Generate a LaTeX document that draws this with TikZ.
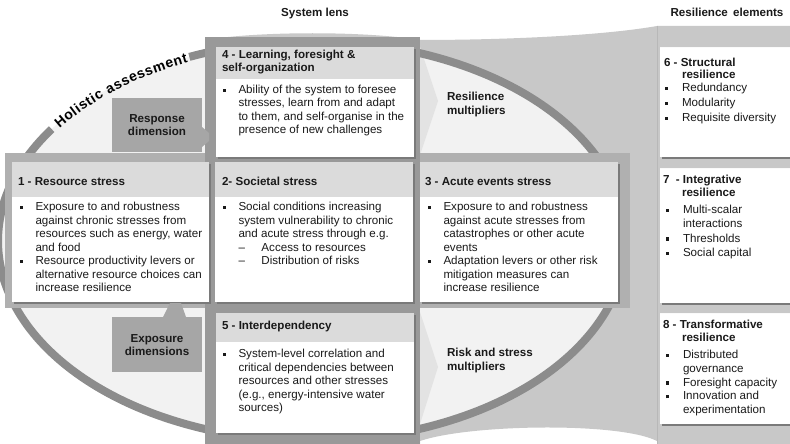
\documentclass[tikz,border=0pt]{standalone}
\usepackage{fontspec}
\setmainfont{Liberation Sans}
\usetikzlibrary{decorations.text}
\definecolor{funnel}{HTML}{C8C8C8}
\definecolor{ringc}{HTML}{8C8C8C}
\definecolor{ringin}{HTML}{F2F2F2}
\definecolor{colbk}{HTML}{999999}
\definecolor{rowbk}{HTML}{B0B0B0}
\definecolor{hdr}{HTML}{DBDBDB}
\definecolor{callc}{HTML}{A6A6A6}
\definecolor{shad}{HTML}{7A7A7A}
\definecolor{chev}{HTML}{E3E3E3}
\definecolor{txt}{HTML}{1A1A1A}
\newcommand\mybul{\raisebox{1.6pt}{\rule{3.2pt}{3.2pt}}}
\newcommand\mybi{\makebox[15.5pt][l]{\mybul}}
\newcommand\myci{\hspace*{15.5pt}}
\newcommand\mybir{\makebox[17pt][l]{\mybul}}
\newcommand\mycir{\hspace*{17pt}}
\newcommand\myblk[5][13.5]{\node[txtblock, font=\fontsize{11.6}{#1}\selectfont] (#2) at ({#3},{#4-0.7*#1}) {\begin{tabular}{@{}l@{}}#5\end{tabular}};}
\newcommand\mybox[5]{%
  \fill[shad] ({#1+2},{#2+2}) rectangle ({#3+2},{#4+2});
  \fill[white] (#1,#2) rectangle (#3,#4);
  \fill[hdr] (#1,#2) rectangle (#3,#5);}
\tikzset{
  txtblock/.style={anchor=north west, inner sep=0pt, outer sep=0pt, text=txt},
  headtxt/.style={anchor=base, inner sep=0pt, font=\fontsize{11.6}{13.5}\selectfont\bfseries, text=txt},
  calltxt/.style={align=center, inner sep=0pt, font=\fontsize{11.6}{13.5}\selectfont\bfseries, text=txt}
}
\begin{document}
\begin{tikzpicture}[x=1pt,y=-1pt]
\useasboundingbox (0,0) rectangle (790,444);
\fill[white] (0,0) rectangle (790,444);
% funnel background
\fill[funnel] (205,444) -- (205,40) .. controls (260,31) and (365,31) .. (420,40)
  .. controls (500,40) and (600,36) .. (657,26) -- (790,26) -- (790,444) -- (657,444)
  -- (657,441) .. controls (620,422) and (470,424) .. (420,441) -- (420,444) -- cycle;
\draw[colbk!70, line width=0.6pt] (657,26) -- (657,444);
% ring interior
\fill[ringin] (312,241) ellipse [x radius=314pt, y radius=200pt];
% chevrons
\fill[chev] (420,47) -- (438,101) -- (420,155) -- cycle;
\fill[chev] (420,312) -- (438,367) -- (420,424) -- cycle;
% ring band
\draw[ringc, line width=8pt] plot[domain=146:473, samples=240] ({312+314*cos(\x)},{241-200*sin(\x)});
% holistic text
\path[decorate, decoration={text along path, text={|\fontsize{14}{14}\selectfont\bfseries|Holistic assessment}, text align={fit to path}, raise=-5pt}]
  plot[domain=0:31, samples=60] ({312+314*cos(144.5-\x)},{241-200*sin(144.5-\x)});
% backdrops
\fill[rowbk] (5,153) rectangle (630,308);
\fill[colbk] (205,37) rectangle (420,444);
% boxes
\mybox{12}{162}{209}{302}{197}
\mybox{215}{162}{413}{302}{197}
\mybox{420}{162}{618}{302}{197}
\mybox{216}{47}{414}{157}{79}
\mybox{216}{313}{414}{433}{342}
\mybox{660}{47}{792}{157}{47}
\mybox{660}{168}{792}{303}{168}
\mybox{660}{313}{792}{424}{313}
% callouts
\fill[callc] (112,98) rectangle (202,152);
\fill[callc] (202,127) -- (209,133) -- (209,141) -- (202,147) -- cycle;
\fill[callc] (112,317) rectangle (202,372);
\fill[callc] (163,317) -- (170,303) -- (181,303) -- (186,317) -- cycle;
\node[calltxt] (resp) at (157,125) {Response\\dimension};
\node[calltxt] (expo) at (157,345) {Exposure\\dimensions};
% headers
\node[headtxt] (syslens) at (315,16.5) {System lens};
\node[headtxt] (reselem) at (727,16.5) {Resilience\hspace{0.45em}elements};
% multipliers
\myblk{resmul}{447}{100.5}{\textbf{Resilience}\\\textbf{multipliers}}
\myblk{riskmul}{447}{356.5}{\textbf{Risk and stress}\\\textbf{multipliers}}
% box 1
\myblk{t1}{18}{185.5}{\textbf{1 - Resource stress}}
\myblk{b1}{20}{210.5}{\mybi Exposure to and robustness\\ \myci against chronic stresses from\\ \myci resources such as energy, water\\ \myci and food\\ \mybi Resource productivity levers or\\ \myci alternative resource choices can\\ \myci increase resilience}
% box 2
\myblk{t2}{222}{185.5}{\textbf{2- Societal stress}}
\myblk{b2}{223}{210.5}{\mybi Social conditions increasing\\ \myci system vulnerability to chronic\\ \myci and acute stress through e.g.\\ \myci\makebox[23pt][l]{--}Access to resources\\ \myci\makebox[23pt][l]{--}Distribution of risks}
% box 3
\myblk{t3}{425}{185.5}{\textbf{3 - Acute events stress}}
\myblk{b3}{428}{210.5}{\mybi Exposure to and robustness\\ \myci against acute stresses from\\ \myci catastrophes or other acute\\ \myci events\\ \mybi Adaptation levers or other risk\\ \myci mitigation measures can\\ \myci increase resilience}
% box 4
\myblk[13.2]{t4}{222}{58.3}{\textbf{4 - Learning, foresight \&}\\\textbf{self-organization}}
\myblk{b4}{223}{93.5}{\mybi Ability of the system to foresee\\ \myci stresses, learn from and adapt\\ \myci to them, and self-organise in the\\ \myci presence of new challenges}
% box 5
\myblk{t5}{222}{329.5}{\textbf{5 - Interdependency}}
\myblk{b5}{223}{357.5}{\mybi System-level correlation and\\ \myci critical dependencies between\\ \myci resources and other stresses\\ \myci (e.g., energy-intensive water\\ \myci sources)}
% box 6
\myblk[12.2]{t6}{664}{66.5}{\textbf{6 - Structural}\\ \hspace*{18pt}\textbf{resilience}}
\myblk[15]{b6}{665}{91.5}{\mybir Redundancy\\ \mybir Modularity\\ \mybir Requisite diversity}
% box 7
\myblk[13]{t7}{663}{183.5}{\textbf{7\ \ - Integrative}\\ \hspace*{19pt}\textbf{resilience}}
\myblk[14.3]{b7}{666}{213.5}{\mybir Multi-scalar\\ \mycir interactions\\ \mybir Thresholds\\ \mybir Social capital}
% box 8
\myblk[13]{t8}{663}{328.5}{\textbf{8 - Transformative}\\ \hspace*{19pt}\textbf{resilience}}
\myblk[13.8]{b8}{666}{358.5}{\mybir Distributed\\ \mycir governance\\ \mybir Foresight capacity\\ \mybir Innovation and\\ \mycir experimentation}
\end{tikzpicture}
\end{document}
